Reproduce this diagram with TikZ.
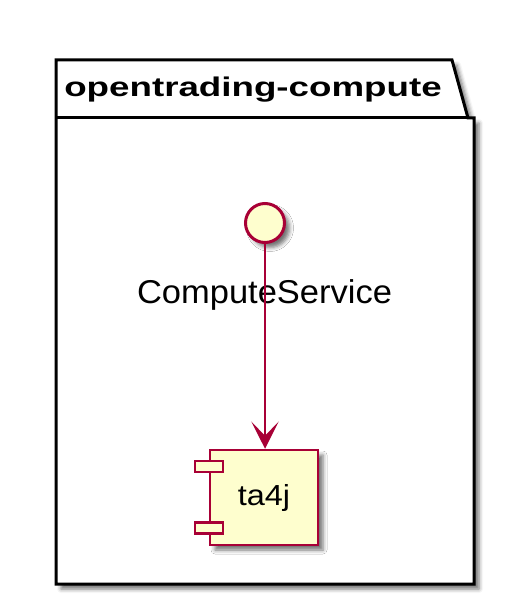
\documentclass[tikz,border=0pt]{standalone}
\usepackage{fontspec}
\setmainfont{Liberation Sans}
\usepackage{graphicx}
\usetikzlibrary{positioning,arrows.meta,shadows.blur}
\definecolor{umlred}{HTML}{A80036}
\definecolor{umlfill}{HTML}{FEFECE}
\definecolor{ink}{HTML}{000000}

\begin{document}
\begin{tikzpicture}[
  x=1pt,y=-1pt,
  softshadow/.style={blur shadow={shadow xshift=5pt,shadow yshift=-5pt,shadow blur radius=4pt,shadow opacity=55}},
  pkgline/.style={draw=ink,line width=3pt,fill=white,line join=miter},
  pkgtitle/.style={font=\fontsize{27}{32}\selectfont\bfseries,text=ink,inner sep=0pt},
  iface/.style={circle,draw=umlred,line width=3pt,fill=umlfill,minimum size=39pt,inner sep=0pt,softshadow},
  ifacelabel/.style={font=\fontsize{33}{38}\selectfont,text=ink,inner sep=0pt},
  compbox/.style={rectangle,draw=umlred,line width=2.5pt,fill=umlfill,minimum width=108pt,minimum height=95pt,inner sep=0pt,font=\fontsize{29}{33}\selectfont,text=ink,softshadow},
  portbox/.style={rectangle,draw=umlred,line width=2.5pt,fill=umlfill,minimum width=28pt,minimum height=11pt,inner sep=0pt},
  arr/.style={-{Stealth[length=27pt,width=27pt,inset=14pt]},line width=2pt,draw=umlred}
]
\useasboundingbox (0,0) rectangle (527,612);
\path[pkgline,softshadow] (56,118) -- (56,60) -- (452,60) -- (468,118) -- (474,118) -- (474,584) -- (56,584) -- cycle;
\draw[pkgline] (56,118) -- (468,118);
\node[pkgtitle,anchor=base] (pkgname) at (253,97) {\scalebox{1.36}[1]{opentrading-compute}};
\node[iface] (svc) at (265,223) {};
\node[ifacelabel,anchor=base] (svclabel) at (264.5,303) {\scalebox{1.045}[1]{ComputeService}};
\node[compbox] (ta4j) at (264,497.5) {\scalebox{1.12}[1]{ta4j}};
\node[portbox] (porta) at ([yshift=-17.5pt]ta4j.north west) {};
\node[portbox] (portb) at ([yshift=18.5pt]ta4j.south west) {};
\draw[arr] (svc) -- (svc |- ta4j.north);
\end{tikzpicture}
\end{document}
